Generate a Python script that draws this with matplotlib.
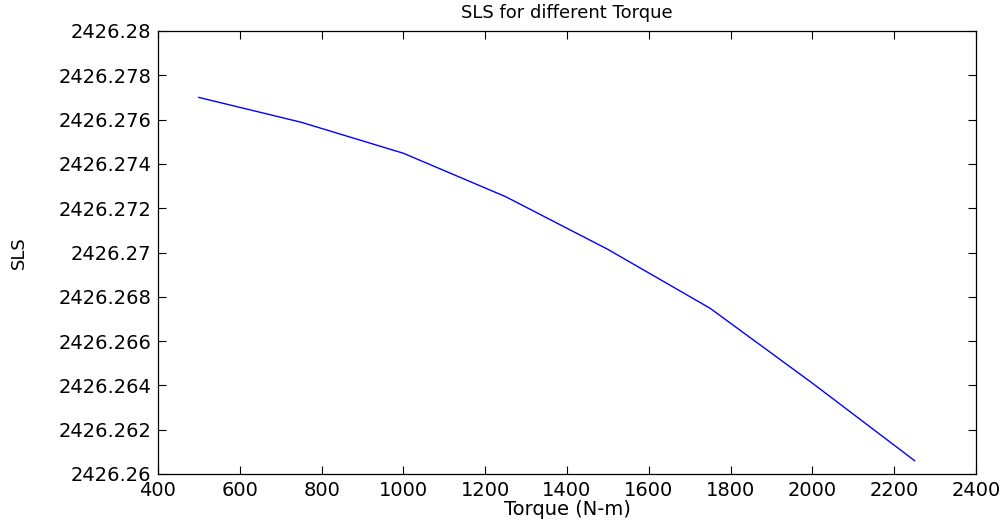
import numpy as np
import matplotlib
matplotlib.use("Agg")
import matplotlib.pyplot as plt
from matplotlib.ticker import FuncFormatter

torque = [500, 750, 1000, 1250, 1500, 1750, 2000, 2250]
sls = [2426.2770, 2426.27588, 2426.27448, 2426.27252, 2426.27014,
       2426.26748, 2426.2641, 2426.2606]

xticks = np.arange(400, 2401, 200)
yticks = np.round(np.arange(2426.26, 2426.2801, 0.002), 3)

plt.rcParams['font.family'] = ['DejaVu Sans']

fig = plt.figure(figsize=(10.06, 5.25), dpi=100)
ax = fig.add_axes([158 / 1006, 1 - 474 / 525, (976 - 158) / 1006, (474 - 31) / 525])

ax.plot(torque, sls, color='#0000ff', lw=1.0)

ax.set_xlim(400, 2400)
ax.set_ylim(2426.26, 2426.28)
ax.set_xticks(xticks)
ax.set_yticks(yticks)

def yfmt(v, pos):
    s = '%.3f' % v
    return s.rstrip('0').rstrip('.')

ax.yaxis.set_major_formatter(FuncFormatter(yfmt))
ax.tick_params(direction='in', length=6, width=0.8, top=True, right=True,
               labelsize=14, colors='black')
ax.tick_params(axis='y', pad=5)
ax.tick_params(axis='x', pad=5)
for s in ax.spines.values():
    s.set_linewidth(0.9)

ax.set_title('SLS for different Torque', fontsize=13, pad=9)
ax.set_xlabel('Torque (N-m)', fontsize=14, labelpad=0)
ax.set_ylabel('SLS', fontsize=13, labelpad=22)

fig.savefig('out.png', dpi=100)
